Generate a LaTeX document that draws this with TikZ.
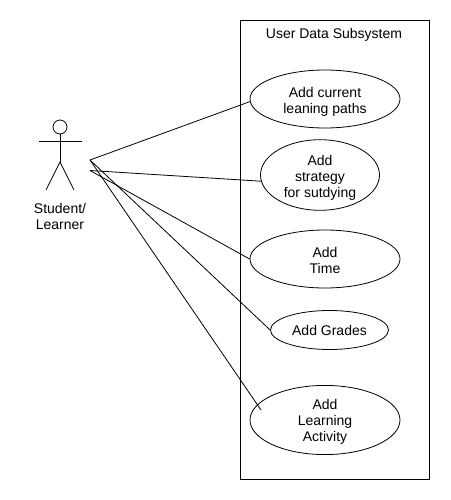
\documentclass[tikz,border=0pt]{standalone}
\usepackage{fontspec}
\setmainfont{Liberation Sans}
\usetikzlibrary{shapes.geometric}
\newcommand{\topgap}[1]{\rule{0pt}{#1pt}}
\tikzset{
	usecase/.style={draw=black,ellipse,inner sep=0pt,align=center,line width=0.8pt},
	assoc/.style={draw=black,line width=0.8pt},
}
\begin{document}
\begin{tikzpicture}[x=1pt,y=-1pt,font=\fontsize{14}{16}\selectfont]
\useasboundingbox (0,0) rectangle (450,500);
\coordinate[] (armL) at (39,141.5);
\coordinate[] (armR) at (82,141.5);
\coordinate[] (hip) at (60,162);
\coordinate[] (legL) at (46,190);
\coordinate[] (legR) at (74,190);
\coordinate[] (startA) at (90,160);
\coordinate[] (startB) at (90,170.5);
\coordinate[] (endActivity) at (261,410);
\draw[assoc] (240.5,20) rectangle (429,479);
\node[draw=black,circle,line width=0.8pt,minimum size=14pt,inner sep=0pt] (head) at (60,127) {};
\draw[assoc] (armL) -- (armR);
\draw[assoc] (head.south) -- (hip);
\draw[assoc] (legL) -- (hip) -- (legR);
\node[align=center] (actor) at (60,216) {Student/\\Learner};
\node (system) at (334,34.5) {User Data Subsystem};
\node[usecase,minimum width=150pt,minimum height=58pt] (paths) at (325,99) {\topgap{15.5}Add current\\leaning paths};
\node[usecase,minimum width=119pt,minimum height=70pt] (strategy) at (320,175) {\topgap{15}Add\\strategy\\for sutdying};
\node[usecase,minimum width=150pt,minimum height=58pt] (time) at (325,259) {\topgap{13.5}Add\\Time};
\node[usecase,minimum width=118pt,minimum height=39pt] (grades) at (329.5,330) {Add Grades};
\node[usecase,minimum width=150pt,minimum height=58pt] (activity) at (325,420) {\topgap{14}Add\\Learning\\Activity};
\draw[assoc] (startA) -- (paths.182);
\draw[assoc] (startB) -- (strategy.186);
\draw[assoc] (startB) -- (time.west);
\draw[assoc] (startA) -- (grades.west);
\draw[assoc] (startA) -- (endActivity);
\end{tikzpicture}
\end{document}
